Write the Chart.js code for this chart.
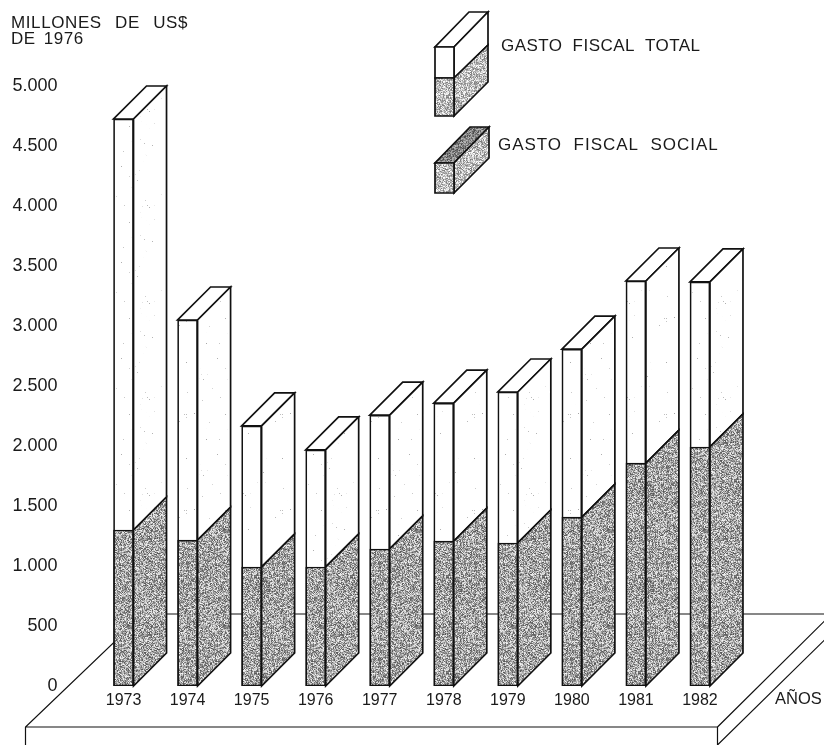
<!DOCTYPE html>
<html>
<head>
<meta charset="utf-8">
<style>
  html, body { margin: 0; padding: 0; background: #fff; }
  #wrap { width: 824px; height: 745px; }
</style>
<script src="https://cdn.jsdelivr.net/npm/chart.js@4"></script>
</head>
<body>
<div id="wrap"><canvas id="grafico" width="824" height="745"></canvas></div>
<script>
const anos = ["1973", "1974", "1975", "1976", "1977", "1978", "1979", "1980", "1981", "1982"];
const gastoTotal = [4725, 3050, 2167, 1967, 2258, 2358, 2450, 2808, 3375, 3367];
const gastoSocial = [1300, 1215, 992, 992, 1142, 1208, 1192, 1408, 1858, 1992];
const etiquetasY = ["0", "500", "1.000", "1.500", "2.000", "2.500", "3.000", "3.500", "4.000", "4.500", "5.000"];
const tituloY = ["MILLONES DE US$", "DE 1976"];
const tituloX = "AÑOS";
const leyenda = ["GASTO FISCAL TOTAL", "GASTO FISCAL SOCIAL"];

const FUENTE = '"Liberation Sans", Arial, sans-serif';
const PROF = 33;

// textura de puntos, como la trama de la impresion
function trama(base, rango, densidad) {
    const c = document.createElement("canvas");
    c.width = c.height = 96;
    const g = c.getContext("2d");
    const img = g.createImageData(96, 96);
    let s = 12345;
    for (let i = 0; i < img.data.length; i += 4) {
        s = (s * 1103515245 + 12345) & 0x7fffffff;
        const r = (s >> 8) % 1000;
        const v = r < densidad * 1000 ? base - rango * ((s >> 18) % 100) / 100 : base + rango * ((s >> 18) % 100) / 100;
        img.data[i] = img.data[i + 1] = img.data[i + 2] = Math.min(255, v);
        img.data[i + 3] = 255;
    }
    g.putImageData(img, 0, 0);
    return g.createPattern(c, "repeat");
}
const tramaGris = trama(165, 80, 0.5);
const tramaClara = trama(190, 70, 0.5);
const tramaOscura = trama(130, 60, 0.5);
const tramaBlanca = trama(255, 90, 0.006);

function poligono(ctx, pts, relleno) {
    ctx.beginPath();
    pts.forEach((p, i) => i ? ctx.lineTo(p[0], p[1]) : ctx.moveTo(p[0], p[1]));
    ctx.closePath();
    if (relleno) { ctx.fillStyle = relleno; ctx.fill(); }
    ctx.stroke();
}

function texto(ctx, str, x, y, fuente, espacio, palabra) {
    ctx.font = fuente;
    ctx.letterSpacing = espacio || "0px";
    ctx.wordSpacing = palabra || "0px";
    ctx.fillText(str, x, y);
    ctx.letterSpacing = "0px";
    ctx.wordSpacing = "0px";
}

const plano = {
    id: "plano",
    beforeDatasetsDraw(chart) {
        const ctx = chart.ctx;
        const base = chart.scales.y.getPixelForValue(0);
        const izq = chart.chartArea.left;
        const frente = base + 41, fondo = base - 72;
        ctx.save();
        ctx.strokeStyle = "#111";
        ctx.lineWidth = 1.2;
        // suelo
        ctx.beginPath();
        ctx.moveTo(izq - 66, frente + 18);
        ctx.lineTo(izq - 66, frente);
        ctx.lineTo(izq + 52, fondo);
        ctx.lineTo(824, fondo);
        ctx.moveTo(izq - 66, frente);
        ctx.lineTo(izq + 626, frente);
        ctx.lineTo(izq + 626, frente + 18);
        ctx.lineTo(izq + 733, frente - 87);
        ctx.moveTo(izq + 626, frente);
        ctx.lineTo(izq + 733, frente - 106);
        ctx.stroke();
        // caras laterales y superiores
        ctx.lineWidth = 1.7;
        ctx.lineJoin = "miter";
        const total = chart.getDatasetMeta(1).data;
        const social = chart.getDatasetMeta(0).data;
        total.forEach((bar, i) => {
            const ancho = bar.width / 2;
            const d = bar.x + ancho, a = bar.x - ancho;
            const s = social[i].y;
            poligono(ctx, [[a, bar.y], [d, bar.y], [d + PROF, bar.y - PROF], [a + PROF, bar.y - PROF]], "#fff");
            poligono(ctx, [[d, bar.y], [d + PROF, bar.y - PROF], [d + PROF, s - PROF], [d, s]], tramaBlanca);
            poligono(ctx, [[d, s], [d + PROF, s - PROF], [d + PROF, base - PROF], [d, base]], tramaGris);
        });
        ctx.restore();
    },
    afterDraw(chart) {
        const ctx = chart.ctx;
        ctx.save();
        ctx.fillStyle = "#1a1a1a";
        ctx.textBaseline = "middle";
        ctx.textAlign = "left";
        texto(ctx, tituloY[0], 11, 23, "17px " + FUENTE, "0.6px", "8px");
        texto(ctx, tituloY[1], 11, 39, "17px " + FUENTE, "0.5px", "3px");
        texto(ctx, tituloX, 775, 699, "16.5px " + FUENTE);
        texto(ctx, leyenda[0], 501, 46, "17px " + FUENTE, "0.45px", "5px");
        texto(ctx, leyenda[1], 498, 145, "17px " + FUENTE, "0.95px", "6px");
        ctx.strokeStyle = "#111";
        ctx.lineWidth = 1.7;
        // muestra del total
        poligono(ctx, [[435, 47], [454, 47], [488, 12], [469, 12]], "#fff");
        poligono(ctx, [[454, 47], [488, 12], [488, 45], [454, 78]], "#fff");
        poligono(ctx, [[454, 78], [488, 45], [488, 82], [454, 116]], tramaClara);
        poligono(ctx, [[435, 47], [454, 47], [454, 78], [435, 78]], "#fff");
        poligono(ctx, [[435, 78], [454, 78], [454, 116], [435, 116]], tramaClara);
        // muestra del social
        poligono(ctx, [[435, 163], [454, 163], [489, 127], [470, 127]], tramaOscura);
        poligono(ctx, [[454, 163], [489, 127], [489, 158], [454, 193]], tramaClara);
        poligono(ctx, [[435, 163], [454, 163], [454, 193], [435, 193]], tramaClara);
        ctx.restore();
    }
};

new Chart(document.getElementById("grafico"), {
    type: "bar",
    data: {
        labels: anos,
        datasets: [
            { label: leyenda[1], data: gastoSocial, backgroundColor: tramaGris, borderColor: "#111", borderWidth: 1.7, borderSkipped: false },
            { label: leyenda[0], data: gastoTotal, backgroundColor: tramaBlanca, borderColor: "#111", borderWidth: 1.7, borderSkipped: false }
        ]
    },
    options: {
        responsive: false,
        animation: false,
        layout: { padding: { top: 86, right: 92, bottom: 0, left: 0 } },
        plugins: { legend: { display: false }, tooltip: { enabled: false } },
        datasets: { bar: { barThickness: 20 } },
        scales: {
            x: {
                stacked: true,
                grid: { display: false, drawTicks: false },
                border: { display: false },
                afterFit(scale) { scale.height = 59; },
                ticks: { color: "#1a1a1a", padding: 5, maxRotation: 0, autoSkip: false, font: { family: FUENTE, size: 16 } }
            },
            y: {
                min: 0,
                max: 5000,
                grid: { display: false, drawTicks: false },
                border: { display: false },
                afterFit(scale) { scale.width = 91.5; },
                ticks: {
                    stepSize: 500,
                    padding: 34,
                    color: "#1a1a1a",
                    font: { family: FUENTE, size: 18 },
                    callback: (v, i) => etiquetasY[i]
                }
            }
        }
    },
    plugins: [plano]
});
</script>
</body>
</html>
